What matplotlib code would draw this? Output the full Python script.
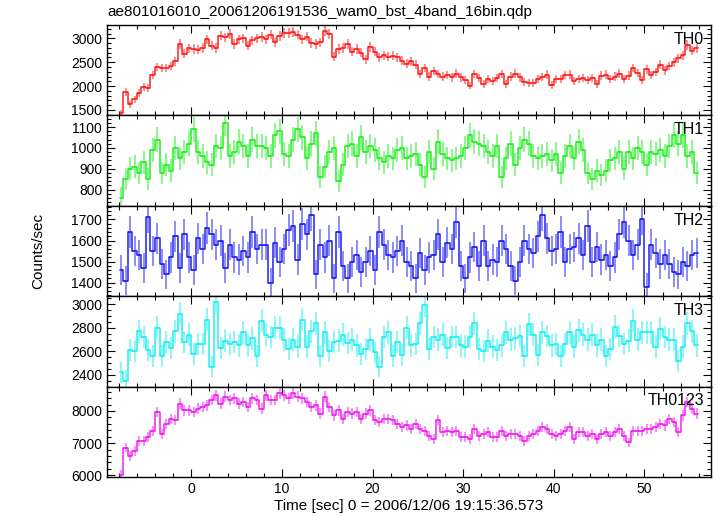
import matplotlib
matplotlib.use('Agg')
import matplotlib.pyplot as plt
import numpy as np
from matplotlib.ticker import MultipleLocator

plt.rcParams['font.family'] = ['Liberation Sans', 'DejaVu Sans']

# bins of 0.5 s, first bin starts at -8 s
t_start = -8.0
bin_size = 0.5

th0 = [1430, 1880, 1620, 1720, 1850, 1980, 1960, 2230, 2400, 2380, 2380, 2420, 2520, 2880, 2680, 2790,
       2780, 2760, 2800, 2980, 2850, 2800, 3060, 3020, 3100, 2880, 2980, 3000, 2850, 2960, 3000, 3030,
       2980, 3080, 2920, 3050, 3120, 3120, 3130, 3080, 2980, 3040, 2900, 2880, 2920, 3150, 3100, 2620,
       2780, 2800, 2880, 2720, 2780, 2700, 2560, 2820, 2720, 2600, 2650, 2620, 2640, 2600, 2530, 2470,
       2520, 2450, 2250, 2380, 2200, 2320, 2250, 2200, 2230, 2180, 2260, 2180, 2130, 2010, 2250, 2160,
       2050, 2150, 2100, 2160, 2250, 2040, 2200, 2260, 2180, 2080, 2060, 2060, 2150, 2190, 2240, 2030,
       2140, 2150, 2230, 2240, 2100, 2140, 2160, 2120, 2170, 2040, 2220, 2240, 2150, 2200, 2260, 2140,
       2220, 2380, 2280, 2120, 2350, 2230, 2300, 2450, 2330, 2420, 2500, 2580, 2650, 2860, 2740, 2790]

th1 = [760, 850, 900, 910, 880, 930, 850, 990, 1040, 880, 920, 890, 1000, 950, 980, 1020,
       1090, 980, 960, 930, 920, 1010, 1000, 1120, 960, 980, 1030, 1010, 960, 1040, 1010, 1010,
       1000, 960, 1060, 1080, 970, 960, 1040, 1090, 1050, 950, 1020, 1070, 860, 910, 980, 1000,
       840, 920, 1010, 1020, 960, 1050, 980, 1010, 990, 950, 930, 960, 950, 990, 1000, 950,
       960, 970, 920, 860, 980, 900, 1030, 970, 950, 940, 950, 960, 1000, 1060, 1030, 1020,
       1010, 980, 960, 1010, 860, 950, 1020, 920, 1000, 1040, 1020, 960, 950, 960, 970, 940,
       970, 880, 960, 1010, 950, 1030, 990, 880, 850, 890, 870, 890, 940, 950, 980, 900,
       980, 950, 1000, 980, 920, 980, 970, 990, 960, 1010, 1060, 1020, 1060, 960, 980, 880]

th2 = [1460, 1410, 1640, 1550, 1530, 1470, 1710, 1550, 1610, 1490, 1440, 1520, 1620, 1470, 1630, 1520,
       1460, 1610, 1560, 1660, 1630, 1580, 1600, 1470, 1580, 1520, 1510, 1550, 1520, 1640, 1560, 1580,
       1580, 1400, 1590, 1500, 1560, 1650, 1670, 1510, 1680, 1630, 1720, 1440, 1580, 1520, 1600, 1420,
       1640, 1480, 1420, 1500, 1530, 1450, 1500, 1550, 1460, 1640, 1580, 1530, 1520, 1550, 1600, 1500,
       1480, 1420, 1540, 1460, 1520, 1530, 1630, 1500, 1590, 1560, 1690, 1480, 1420, 1520, 1570, 1480,
       1600, 1480, 1510, 1500, 1600, 1560, 1480, 1410, 1500, 1600, 1560, 1540, 1620, 1720, 1610, 1550,
       1560, 1640, 1500, 1560, 1570, 1610, 1530, 1670, 1500, 1570, 1510, 1530, 1480, 1520, 1630, 1690,
       1600, 1530, 1580, 1700, 1380, 1580, 1540, 1490, 1530, 1490, 1450, 1440, 1500, 1480, 1530, 1540]

th3 = [2420, 2350, 2610, 2600, 2770, 2720, 2610, 2560, 2800, 2560, 2680, 2630, 2770, 2920, 2680, 2740,
       2580, 2660, 2660, 2870, 2470, 3020, 2630, 2690, 2660, 2680, 2650, 2760, 2650, 2710, 2560, 2860,
       2740, 2720, 2800, 2800, 2700, 2620, 2700, 2640, 2870, 2640, 2770, 2840, 2560, 2760, 2600, 2680,
       2690, 2740, 2670, 2700, 2650, 2580, 2620, 2700, 2590, 2470, 2720, 2760, 2560, 2680, 2570, 2800,
       2650, 2660, 2840, 2990, 2620, 2720, 2700, 2740, 2630, 2720, 2720, 2650, 2640, 2720, 2840, 2620,
       2600, 2690, 2640, 2610, 2650, 2760, 2700, 2710, 2730, 2560, 2830, 2740, 2570, 2760, 2730, 2650,
       2660, 2560, 2660, 2760, 2640, 2780, 2740, 2700, 2740, 2650, 2700, 2560, 2620, 2810, 2730, 2660,
       2690, 2860, 2700, 2760, 2760, 2760, 2640, 2790, 2720, 2700, 2700, 2520, 2640, 2840, 2770, 2650]

th0123 = [6020, 6860, 6600, 6760, 7070, 7070, 7180, 7390, 7970, 7280, 7600, 7760, 7710, 8230, 8020, 8020,
          7970, 8070, 8130, 8180, 8340, 8490, 8230, 8440, 8340, 8390, 8230, 8280, 8130, 8390, 8340, 8070,
          8490, 8340, 8340, 8550, 8490, 8390, 8550, 8440, 8390, 8280, 8130, 8180, 7920, 8440, 8130, 7860,
          8020, 7760, 7970, 7920, 7970, 7760, 7920, 8020, 7710, 7650, 7760, 7760, 7710, 7600, 7490, 7550,
          7440, 7600, 7440, 7390, 7230, 7130, 7710, 7340, 7390, 7340, 7390, 7180, 7180, 7130, 7440, 7230,
          7280, 7340, 7180, 7180, 7390, 7230, 7280, 7280, 7230, 7070, 7230, 7280, 7390, 7490, 7440, 7280,
          7230, 7280, 7390, 7490, 7130, 7340, 7340, 7230, 7280, 7130, 7280, 7340, 7230, 7340, 7440, 7230,
          7020, 7390, 7390, 7390, 7440, 7440, 7490, 7600, 7550, 7760, 7650, 7340, 7860, 8280, 8070, 7920]

names = ['TH0', 'TH1', 'TH2', 'TH3', 'TH0123']
series = [th0, th1, th2, th3, th0123]
colors = ['#ff2020', '#20f020', '#2020f0', '#20f0f0', '#f020f0']
ylims = [(1383, 3282), (722, 1156), (1336, 1765), (2300, 3068), (5944, 8760)]
majors = [500, 100, 100, 200, 1000]
minors = [100, 20, 20, 50, 200]

W, H = 717, 516
fig = plt.figure(figsize=(W / 100, H / 100), dpi=100)

left, right = 107 / W, 711 / W
top_px, bot_px = 25, 477
ph = (bot_px - top_px) / 5

axes = []
for i, (name, vals, col) in enumerate(zip(names, series, colors)):
    y0 = 1 - (top_px + (i + 1) * ph) / H
    ax = fig.add_axes([left, y0, right - left, ph / H], sharex=axes[0] if axes else None)
    axes.append(ax)
    vals = np.array(vals, dtype=float)
    t = t_start + bin_size / 2 + bin_size * np.arange(len(vals))
    # poisson error of a rate in 0.5 s bins (with a bit of dead-time inflation)
    err = 1.3 * np.sqrt(vals * bin_size) / bin_size
    ax.errorbar(t, vals, xerr=bin_size / 2, yerr=err, fmt='none', ecolor=col,
                elinewidth=1.2, alpha=0.6)
    ax.step(t, vals, where='mid', color=col, lw=1.1)
    ax.set_ylim(*ylims[i])
    ax.yaxis.set_major_locator(MultipleLocator(majors[i]))
    ax.yaxis.set_minor_locator(MultipleLocator(minors[i]))
    ax.tick_params(which='both', direction='in', top=True, right=True, labelsize=10)
    ax.tick_params(which='major', length=6, width=0.8)
    ax.tick_params(which='minor', length=3, width=0.8)
    ax.text(0.988, 0.925, name, transform=ax.transAxes, ha='right', va='top', fontsize=11.5)
    if i < 4:
        ax.tick_params(labelbottom=False)
    for s in ax.spines.values():
        s.set_linewidth(1.0)

axes[0].set_xlim(-9.3, 57.35)
axes[0].xaxis.set_major_locator(MultipleLocator(10))
axes[0].xaxis.set_minor_locator(MultipleLocator(2))

fig.text(left, 1 - 12 / H, 'ae801016010_20061206191536_wam0_bst_4band_16bin.qdp',
         ha='left', va='center', fontsize=11)
axes[-1].set_xlabel('Time [sec] 0 = 2006/12/06 19:15:36.573', fontsize=11, labelpad=2)
fig.text(38 / W, 1 - 251 / H, 'Counts/sec', rotation=90, ha='center', va='center', fontsize=11)

fig.savefig('out.png', dpi=100)
